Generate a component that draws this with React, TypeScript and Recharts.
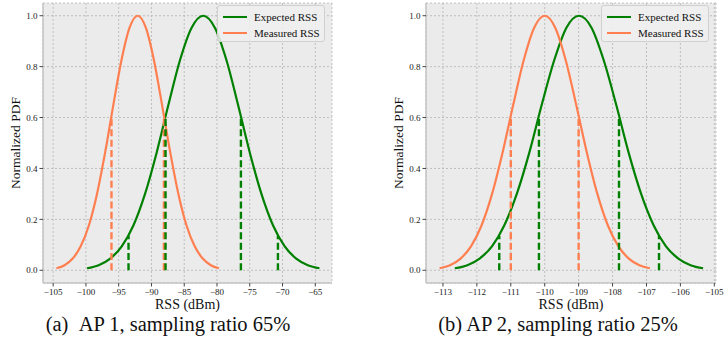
import React from 'react';
import { LineChart, Line, XAxis, YAxis, CartesianGrid } from 'recharts';

// Shared normalized PDF shape values (peak = 1)
const pdfShape = [0.008, 0.02, 0.046, 0.095, 0.177, 0.301, 0.464, 0.649, 0.825, 0.953, 1, 0.953, 0.825, 0.649, 0.464, 0.301, 0.177, 0.095, 0.046, 0.02, 0.008];

// AP 1 (left panel)
const ap1MeasuredX = [-104.5, -103.26, -102.02, -100.78, -99.54, -98.3, -97.06, -95.82, -94.58, -93.34, -92.1, -90.86, -89.62, -88.38, -87.14, -85.9, -84.66, -83.42, -82.18, -80.94, -79.7];
const ap1ExpectedX = [-99.83, -98.06, -96.29, -94.51, -92.74, -90.97, -89.19, -87.42, -85.65, -83.87, -82.1, -80.33, -78.55, -76.78, -75.01, -73.23, -71.46, -69.69, -67.91, -66.14, -64.37];
const ap1MeasuredMarkX = [-96.1, -88.1];
const ap1MeasuredMarkH = [0.607, 0.607];
const ap1ExpectedMarkX = [-93.5, -87.85, -76.35, -70.7];
const ap1ExpectedMarkH = [0.135, 0.607, 0.607, 0.135];
const ap1XTicks = [-105, -100, -95, -90, -85, -80, -75, -70, -65];
const ap1XDomain = [-106.55, -62.45];

// AP 2 (right panel)
const ap2MeasuredX = [-113.1, -112.79, -112.48, -112.17, -111.86, -111.55, -111.24, -110.93, -110.62, -110.31, -110.0, -109.69, -109.38, -109.07, -108.76, -108.45, -108.14, -107.83, -107.52, -107.21, -106.9];
const ap2ExpectedX = [-112.65, -112.28, -111.92, -111.55, -111.19, -110.82, -110.45, -110.09, -109.72, -109.36, -108.99, -108.62, -108.26, -107.89, -107.53, -107.16, -106.79, -106.43, -106.06, -105.7, -105.33];
const ap2MeasuredMarkX = [-111.0, -109.0];
const ap2MeasuredMarkH = [0.607, 0.607];
const ap2ExpectedMarkX = [-111.34, -110.17, -107.81, -106.63];
const ap2ExpectedMarkH = [0.135, 0.607, 0.607, 0.135];
const ap2XTicks = [-113, -112, -111, -110, -109, -108, -107, -106, -105];
const ap2XDomain = [-113.5, -104.95];

const yTicks = [0, 0.2, 0.4, 0.6, 0.8, 1.0];
const yDomain = [-0.05, 1.05];

const seriesNames = ['Expected RSS', 'Measured RSS'];
const captions = ['(a)\u00a0\u00a0AP 1, sampling ratio 65%', '(b) AP 2, sampling ratio 25%'];

const GREEN = '#008000';
const CORAL = '#ff7f50';
const FRAME = '#c4c4c4';
const SERIF = '"Liberation Serif", "Times New Roman", serif';

const toPts = (xs: number[], ys: number[]) => xs.map((x, i) => ({ x, y: ys[i] }));
const fmtX = (v: number) => (v < 0 ? '\u2212' + Math.abs(v) : String(v));
const fmtY = (v: number) => v.toFixed(1);

type PanelProps = {
  left: number;
  width: number;
  rightMargin: number;
  measuredX: number[];
  expectedX: number[];
  mMarkX: number[];
  mMarkH: number[];
  eMarkX: number[];
  eMarkH: number[];
  xTicks: number[];
  xDomain: number[];
  legendLeft: number;
  caption: string;
  captionCenter: number;
};

const Panel = (p: PanelProps) => {
  return (
    <>
      <div style={{ position: 'absolute', left: p.left, top: 0 }}>
        <LineChart width={p.width} height={318} margin={{ top: 3, right: p.rightMargin, left: 0, bottom: 0 }}>
          <CartesianGrid fill="#ebebeb" stroke="#b4b4b4" strokeDasharray="2 2" strokeWidth={0.8} />
          <XAxis
            dataKey="x"
            type="number"
            domain={p.xDomain}
            ticks={p.xTicks}
            interval={0}
            allowDataOverflow
            tickFormatter={fmtX}
            tick={{ fontSize: 9, fill: '#222', fontFamily: SERIF }}
            tickSize={3.5}
            tickLine={{ stroke: '#444' }}
            axisLine={{ stroke: FRAME, strokeWidth: 1.5 }}
            height={35}
            label={{ value: 'RSS (dBm)', position: 'insideBottom', offset: 9, fontSize: 14, fill: '#111', fontFamily: SERIF }}
          />
          <XAxis xAxisId="top" orientation="top" type="number" domain={p.xDomain} allowDataOverflow tick={false} tickLine={false} height={0} axisLine={{ stroke: FRAME, strokeWidth: 1.5 }} />
          <YAxis
            type="number"
            domain={yDomain}
            ticks={yTicks}
            interval={0}
            allowDataOverflow
            tickFormatter={fmtY}
            tick={{ fontSize: 9, fill: '#222', fontFamily: SERIF }}
            tickSize={3.5}
            tickLine={{ stroke: '#444' }}
            axisLine={{ stroke: FRAME, strokeWidth: 1.5 }}
            width={43}
          />
          <YAxis yAxisId="right" orientation="right" type="number" domain={yDomain} allowDataOverflow tick={false} tickLine={false} width={0} axisLine={{ stroke: FRAME, strokeWidth: 1.5 }} />
          <Line data={toPts(p.expectedX, pdfShape)} dataKey="y" type="monotone" stroke={GREEN} strokeWidth={2.2} dot={false} isAnimationActive={false} />
          <Line data={toPts(p.measuredX, pdfShape)} dataKey="y" type="monotone" stroke={CORAL} strokeWidth={2.2} dot={false} isAnimationActive={false} />
          {p.mMarkX.map((x, i) => (
            <Line key={'m' + i} data={[{ x, y: 0 }, { x, y: p.mMarkH[i] }]} dataKey="y" type="linear" stroke={CORAL} strokeWidth={2.4} strokeDasharray="7 3.3" dot={false} isAnimationActive={false} />
          ))}
          {p.eMarkX.map((x, i) => (
            <Line key={'e' + i} data={[{ x, y: 0 }, { x, y: p.eMarkH[i] }]} dataKey="y" type="linear" stroke={GREEN} strokeWidth={2.4} strokeDasharray="7 3.3" dot={false} isAnimationActive={false} />
          ))}
        </LineChart>
      </div>
      <div
        style={{
          position: 'absolute',
          left: p.left + 16 - 60,
          top: 143 - 9,
          width: 120,
          height: 18,
          lineHeight: '18px',
          textAlign: 'center',
          transform: 'rotate(-90deg)',
          fontFamily: SERIF,
          fontSize: 13.5,
          color: '#111',
        }}
      >
        Normalized PDF
      </div>
      <div
        style={{
          position: 'absolute',
          left: p.legendLeft,
          top: 5,
          width: 108,
          height: 37,
          background: 'rgba(240,240,240,0.85)',
          border: '1px solid #d0d0d0',
          borderRadius: 3,
          fontFamily: SERIF,
          fontSize: 11,
          color: '#111',
          boxSizing: 'border-box',
        }}
      >
        {seriesNames.map((name, i) => (
          <div key={name} style={{ position: 'absolute', left: 5, top: 4 + i * 16, height: 14, display: 'flex', alignItems: 'center' }}>
            <div style={{ width: 24, height: 2.2, background: i === 0 ? GREEN : CORAL, marginRight: 7 }} />
            <span style={{ whiteSpace: 'nowrap' }}>{name}</span>
          </div>
        ))}
      </div>
      <div
        style={{
          position: 'absolute',
          left: p.captionCenter - 200,
          width: 400,
          top: 314,
          height: 20,
          lineHeight: '20px',
          textAlign: 'center',
          fontFamily: SERIF,
          fontSize: 20.5,
          color: '#111',
          whiteSpace: 'pre',
        }}
      >
        {p.caption}
      </div>
    </>
  );
};

export default function App() {
  return (
    <div style={{ position: 'absolute', left: 0, top: 0, width: 727, height: 350, background: '#fff', overflow: 'hidden' }}>
      <Panel
        left={0}
        width={360}
        rightMargin={28}
        measuredX={ap1MeasuredX}
        expectedX={ap1ExpectedX}
        mMarkX={ap1MeasuredMarkX}
        mMarkH={ap1MeasuredMarkH}
        eMarkX={ap1ExpectedMarkX}
        eMarkH={ap1ExpectedMarkH}
        xTicks={ap1XTicks}
        xDomain={ap1XDomain}
        legendLeft={217}
        caption={captions[0]}
        captionCenter={168}
      />
      <Panel
        left={383}
        width={344}
        rightMargin={11}
        measuredX={ap2MeasuredX}
        expectedX={ap2ExpectedX}
        mMarkX={ap2MeasuredMarkX}
        mMarkH={ap2MeasuredMarkH}
        eMarkX={ap2ExpectedMarkX}
        eMarkH={ap2ExpectedMarkH}
        xTicks={ap2XTicks}
        xDomain={ap2XDomain}
        legendLeft={601}
        caption={captions[1]}
        captionCenter={558}
      />
    </div>
  );
}
